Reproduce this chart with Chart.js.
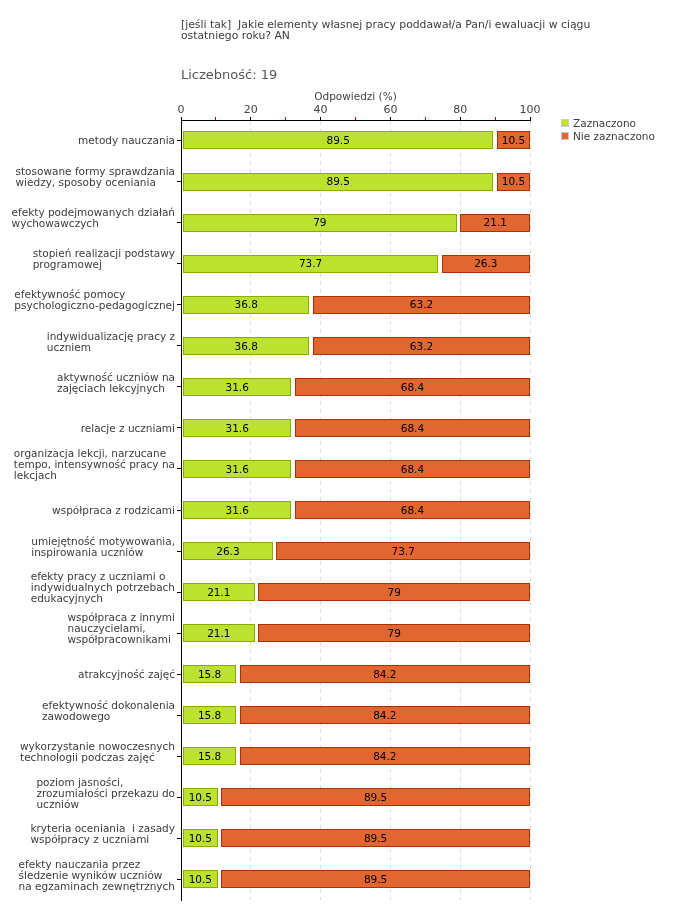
<!DOCTYPE html>
<html>
<head>
<meta charset="utf-8">
<script src="https://cdn.jsdelivr.net/npm/chart.js@4/dist/chart.umd.min.js"></script>
<style>
    body { margin: 0; background: #fff; }
    #wrap { position: relative; width: 680px; height: 920px; font-family: "DejaVu Sans", sans-serif; color: #3c3c3c; }
    #chart { position: absolute; left: 0; top: 0; }
    .title { position: absolute; left: 181px; top: 19px; font-size: 10.8px; line-height: 11px; white-space: pre; }
    .count { position: absolute; left: 181px; top: 67px; font-size: 13px; color: #555; }
    .legend { position: absolute; left: 561px; top: 117px; font-size: 10.5px; line-height: 13px; }
    .legend span { display: inline-block; width: 6px; height: 6px; margin-right: 4px; border: 1px solid #ccc; }
</style>
</head>
<body>
<div id="wrap">
    <canvas id="chart" width="680" height="920"></canvas>
    <div class="title">[jeśli tak]  Jakie elementy własnej pracy poddawał/a Pan/i ewaluacji w ciągu
ostatniego roku? AN</div>
    <div class="count">Liczebność:  19</div>
    <div class="legend">
        <div><span style="background:#bce12f"></span>Zaznaczono</div>
        <div><span style="background:#e26630"></span>Nie zaznaczono</div>
    </div>
</div>
<script>
// Chart data
const categories = [
    ['metody nauczania'],
    ['stosowane formy sprawdzania', 'wiedzy, sposoby oceniania'],
    ['efekty podejmowanych działań', 'wychowawczych'],
    ['stopień realizacji podstawy', 'programowej'],
    ['efektywność pomocy', 'psychologiczno-pedagogicznej'],
    ['indywidualizację pracy z', 'uczniem'],
    ['aktywność uczniów na', 'zajęciach lekcyjnych'],
    ['relacje z uczniami'],
    ['organizacja lekcji, narzucane', 'tempo, intensywność pracy na', 'lekcjach'],
    ['współpraca z rodzicami'],
    ['umiejętność motywowania,', 'inspirowania uczniów'],
    ['efekty pracy z uczniami o', 'indywidualnych potrzebach', 'edukacyjnych'],
    ['współpraca z innymi', 'nauczycielami,', 'współpracownikami'],
    ['atrakcyjność zajęć'],
    ['efektywność dokonalenia', 'zawodowego'],
    ['wykorzystanie nowoczesnych', 'technologii podczas zajęć'],
    ['poziom jasności,', 'zrozumiałości przekazu do', 'uczniów'],
    ['kryteria oceniania  i zasady', 'współpracy z uczniami'],
    ['efekty nauczania przez', 'śledzenie wyników uczniów', 'na egzaminach zewnętrznych']
];
const zaznaczono = [89.5, 89.5, 79, 73.7, 36.8, 36.8, 31.6, 31.6, 31.6, 31.6, 26.3, 21.1, 21.1, 15.8, 15.8, 15.8, 10.5, 10.5, 10.5];
const nieZaznaczono = [10.5, 10.5, 21.1, 26.3, 63.2, 63.2, 68.4, 68.4, 68.4, 68.4, 73.7, 79, 79, 84.2, 84.2, 84.2, 89.5, 89.5, 89.5];
const xTickLabels = [0, 20, 40, 60, 80, 100];

const FONT = '"DejaVu Sans", sans-serif';
const GAP = [1.5, 3.5]; // white gap left of each segment

// draw segments a bit apart, like the original
const gapBars = {
    id: 'gapBars',
    beforeDatasetDraw(chart, args) {
        const ctx = chart.ctx;
        const ds = chart.data.datasets[args.index];
        args.meta.data.forEach(bar => {
            const p = bar.getProps(['x', 'y', 'base', 'height'], true);
            const left = Math.round(Math.min(p.x, p.base) + GAP[args.index]);
            const right = Math.round(Math.max(p.x, p.base));
            const top = Math.round(p.y - p.height / 2);
            const h = Math.round(p.height);
            ctx.save();
            ctx.fillStyle = ds.backgroundColor;
            ctx.fillRect(left, top, right - left, h);
            ctx.strokeStyle = ds.borderColor;
            ctx.lineWidth = 1;
            ctx.strokeRect(left + 0.5, top + 0.5, right - left - 1, h - 1);
            ctx.restore();
        });
        return false;
    }
};

const textLabels = {
    id: 'textLabels',
    afterDraw(chart) {
        const ctx = chart.ctx;
        ctx.save();
        // values in the bars
        ctx.font = '10.5px ' + FONT;
        ctx.fillStyle = '#000';
        ctx.textAlign = 'center';
        ctx.textBaseline = 'middle';
        chart.data.datasets.forEach((ds, i) => {
            chart.getDatasetMeta(i).data.forEach((bar, j) => {
                const p = bar.getProps(['x', 'y', 'base'], true);
                const cx = (Math.min(p.x, p.base) + GAP[i] + Math.max(p.x, p.base)) / 2;
                ctx.fillText(String(ds.data[j]), cx, p.y + 1);
            });
        });
        // category labels: lines left aligned, block right aligned to the axis
        const yScale = chart.scales.y;
        ctx.fillStyle = '#3c3c3c';
        ctx.textAlign = 'left';
        categories.forEach((lines, i) => {
            const ty = yScale.getPixelForTick(i);
            const w = Math.max(...lines.map(s => ctx.measureText(s).width));
            const x0 = 175 - w;
            const lh = 11;
            const y0 = ty + (lines.length > 1 ? -3.5 : 1) - (lines.length - 1) * lh / 2;
            lines.forEach((s, k) => ctx.fillText(s, x0, y0 + k * lh));
        });
        ctx.restore();
    }
};

new Chart(document.getElementById('chart'), {
    type: 'bar',
    data: {
        labels: categories,
        datasets: [{
            label: 'Zaznaczono',
            data: zaznaczono,
            backgroundColor: '#bce12f',
            borderColor: '#8caa00'
        }, {
            label: 'Nie zaznaczono',
            data: nieZaznaczono,
            backgroundColor: '#e26630',
            borderColor: '#a83200'
        }]
    },
    options: {
        indexAxis: 'y',
        responsive: false,
        animation: false,
        categoryPercentage: 1,
        barPercentage: 0.44,
        layout: { padding: { left: 0, top: 0, right: 150, bottom: 20 } },
        plugins: {
            legend: { display: false },
            tooltip: { enabled: false }
        },
        scales: {
            x: {
                position: 'top',
                stacked: true,
                min: 0,
                max: 100,
                afterFit: s => { s.height = 120; },
                ticks: {
                    stepSize: 10,
                    padding: 0,
                    color: '#444',
                    font: { family: FONT, size: 11 },
                    callback: v => xTickLabels.includes(v) ? String(v) : ''
                },
                title: {
                    display: true,
                    text: 'Odpowiedzi (%)',
                    color: '#444',
                    font: { family: FONT, size: 10.5 },
                    padding: { top: 91, bottom: 0 }
                },
                grid: {
                    color: c => c.tick && c.tick.value % 20 === 0 ? '#dcdcdc' : 'rgba(0,0,0,0)',
                    tickColor: c => c.tick && c.tick.value % 20 === 0 ? '#000' : '#d00000',
                    tickLength: 3
                },
                border: { display: true, color: '#000', width: 1, dash: [4, 4] }
            },
            y: {
                stacked: true,
                afterFit: s => { s.width = 181; },
                ticks: { display: false },
                grid: { display: true, drawOnChartArea: false, offset: false, tickLength: 4, color: '#000' },
                border: { display: true, color: '#000', width: 1 }
            }
        }
    },
    plugins: [gapBars, textLabels]
});
</script>
</body>
</html>
